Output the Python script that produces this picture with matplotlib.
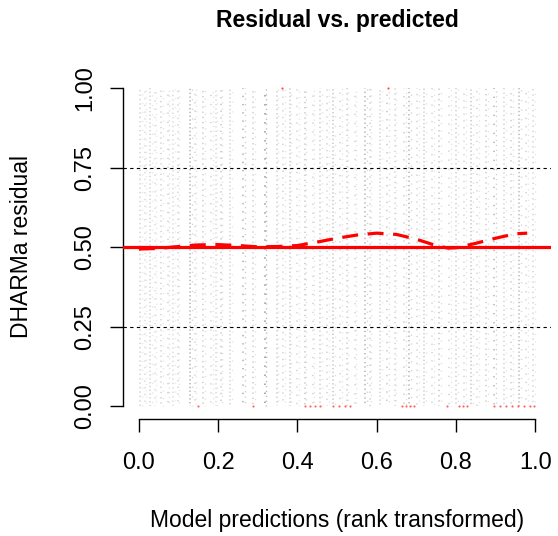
import numpy as np
import matplotlib.pyplot as plt

plt.rcParams['font.family'] = ['Liberation Sans', 'DejaVu Sans']

# residual columns (rank-transformed predictions with tied values) and their darkness
col_x = [0.003, 0.015, 0.028, 0.040, 0.056, 0.073, 0.086, 0.098, 0.129, 0.141,
         0.162, 0.182, 0.194, 0.207, 0.230, 0.263, 0.288, 0.318, 0.348, 0.364,
         0.381, 0.399, 0.419, 0.439, 0.457, 0.475, 0.490, 0.508, 0.525, 0.545,
         0.571, 0.583, 0.609, 0.626, 0.646, 0.669, 0.682, 0.702, 0.720, 0.740,
         0.758, 0.783, 0.801, 0.821, 0.838, 0.854, 0.876, 0.896, 0.922, 0.939,
         0.960, 0.977, 0.995]
col_shade = [0.35, 0.3, 0.35, 0.3, 0.35, 0.4, 0.3, 0.35, 0.6, 0.35,
             0.4, 0.35, 0.3, 0.45, 0.35, 0.65, 0.4, 0.9, 0.4, 0.35,
             0.4, 0.35, 0.45, 0.35, 0.4, 0.35, 0.45, 0.35, 0.4, 0.35,
             0.6, 0.4, 0.35, 0.45, 0.35, 0.4, 0.6, 0.35, 0.4, 0.35,
             0.45, 0.35, 0.4, 0.35, 0.45, 0.35, 0.4, 0.6, 0.35, 0.4,
             0.55, 0.35, 0.35]

# outliers (residual exactly 0 or 1)
out_low_x = [0.149, 0.288, 0.419, 0.432, 0.444, 0.457, 0.490, 0.505, 0.520, 0.533,
             0.664, 0.674, 0.684, 0.694, 0.778, 0.808, 0.818, 0.828, 0.896, 0.912,
             0.927, 0.942, 0.957, 0.972, 0.987, 0.997]
out_high_x = [0.361, 0.629]

# quantile regression fit (0.5 quantile)
q_x = [0.0, 0.05, 0.10, 0.15, 0.20, 0.25, 0.30, 0.35, 0.40, 0.45, 0.50,
       0.55, 0.60, 0.65, 0.70, 0.75, 0.78, 0.80, 0.85, 0.90, 0.95, 0.98]
q_y = [0.494, 0.496, 0.502, 0.507, 0.508, 0.505, 0.501, 0.502, 0.505, 0.516, 0.528,
       0.538, 0.544, 0.540, 0.525, 0.505, 0.497, 0.498, 0.512, 0.528, 0.542, 0.544]

fig = plt.figure(figsize=(5.58, 5.36), dpi=100)
ax = fig.add_axes([123/558, 117/536, 428/558, 343.7/536])

# each column drawn twice with different dot spacing so the dust looks irregular
gaps = [2.0, 3.5, 1.6, 4.5, 2.5, 5.0]
for i, (x, s) in enumerate(zip(col_x, col_shade)):
    g = gaps[i % len(gaps)]
    ax.plot([x, x], [0, 1], color='black', alpha=s * 0.5, lw=1.1,
            linestyle=((i * 1.7) % g, (0.9, g)), solid_capstyle='butt')
    g2 = gaps[(i + 3) % len(gaps)] + 1.0
    ax.plot([x + 0.004, x + 0.004], [0, 1], color='black', alpha=s * 0.3, lw=1.0,
            linestyle=((i * 2.3) % g2, (0.9, g2)), solid_capstyle='butt')

ax.scatter(out_low_x, [0] * len(out_low_x), s=2.5, color='red', alpha=0.6, lw=0, zorder=3)
ax.scatter(out_high_x, [1] * len(out_high_x), s=2.5, color='red', alpha=0.7, lw=0, zorder=3)

for h in [0.25, 0.75]:
    ax.axhline(h, color='black', lw=0.8, linestyle=(0, (3, 3)), zorder=2)
ax.axhline(0.5, color='red', lw=2.3, zorder=4)
ax.plot(q_x, q_y, color='red', lw=2.3, linestyle=(0, (5, 3)), zorder=5)

ax.set_xlim(-0.04, 1.04)
ax.set_ylim(-0.04, 1.04)
for sp in ['top', 'right']:
    ax.spines[sp].set_visible(False)
ax.spines['left'].set_bounds(0, 1)
ax.spines['bottom'].set_bounds(0, 1)
ax.spines['left'].set_linewidth(1.0)
ax.spines['bottom'].set_linewidth(1.0)

ax.set_xticks([0, 0.2, 0.4, 0.6, 0.8, 1.0])
ax.set_xticklabels(['0.0', '0.2', '0.4', '0.6', '0.8', '1.0'])
ax.set_yticks([0, 0.25, 0.5, 0.75, 1.0])
ax.set_yticklabels(['0.00', '0.25', '0.50', '0.75', '1.00'], rotation=90, va='center')
ax.tick_params(axis='both', length=9.5, width=1.0, labelsize=17)
ax.tick_params(axis='x', pad=14)
ax.tick_params(axis='y', pad=10)

fig.text(337/558, 1 - 20/536, 'Residual vs. predicted', ha='center', va='center',
         fontsize=16.5, fontweight='bold')
fig.text(337/558, 1 - 520/536, 'Model predictions (rank transformed)', ha='center',
         va='center', fontsize=16.5)
fig.text(22/558, 1 - 247/536, 'DHARMa residual', ha='center', va='center',
         rotation=90, fontsize=16.5)

fig.savefig('out.png', dpi=100)
